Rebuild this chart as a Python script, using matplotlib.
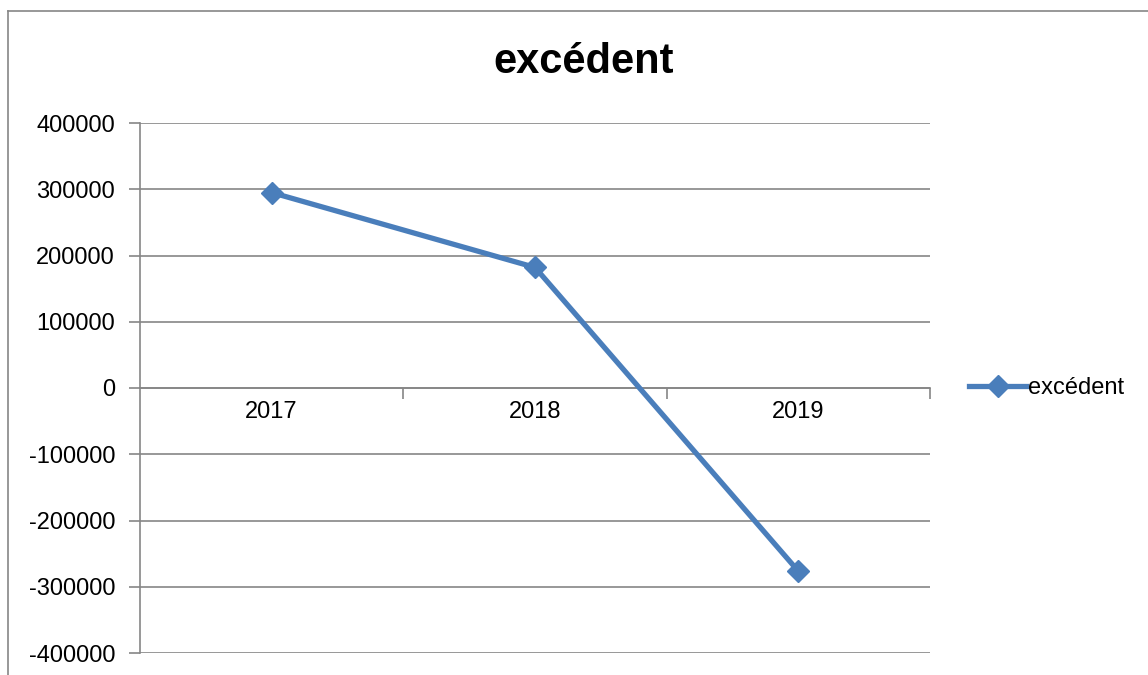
import matplotlib
matplotlib.use("Agg")
import matplotlib.pyplot as plt
from matplotlib.lines import Line2D

categories = ["2017", "2018", "2019"]
values = [295000, 182000, -276500]
yticks = [-400000, -300000, -200000, -100000, 0, 100000, 200000, 300000, 400000]
series_name = "excédent"
title = "excédent"

W, H = 1148, 675
fig = plt.figure(figsize=(W / 100, H / 100), dpi=100)
plt.rcParams['font.family'] = ['Liberation Sans', 'DejaVu Sans']

grid_c = "#868686"
blue = "#4A7EBB"

# outer frame (top and left)
fig.add_artist(Line2D([8 / W, 1.0], [1 - 11 / H, 1 - 11 / H], color=grid_c, lw=1.2))
fig.add_artist(Line2D([8 / W, 8 / W], [0, 1 - 11 / H], color=grid_c, lw=1.2))

left, right, top, bottom = 140, 930, 123, 653
ax = fig.add_axes([left / W, 1 - bottom / H, (right - left) / W, (bottom - top) / H])

x = list(range(len(categories)))
ax.plot(x, values, color=blue, lw=3.8, marker="D", markersize=11,
        markerfacecolor=blue, markeredgecolor=blue, label=series_name, zorder=3)

ax.set_xlim(-0.5, len(categories) - 0.5)
ax.set_ylim(yticks[0], yticks[-1])
ax.set_yticks(yticks)
ax.set_yticklabels([str(v) for v in yticks], fontsize=17)
ax.yaxis.grid(True, color=grid_c, lw=1.2)
ax.set_axisbelow(True)

for s in ["top", "right"]:
    ax.spines[s].set_visible(False)
ax.spines["left"].set_color(grid_c)
ax.spines["left"].set_linewidth(1.2)
ax.spines["bottom"].set_position(("data", 0))
ax.spines["bottom"].set_color(grid_c)
ax.spines["bottom"].set_linewidth(1.2)

ax.tick_params(axis="y", length=8, width=1.2, color=grid_c, pad=10, labelcolor="black")
# category boundary ticks
ax.set_xticks([i + 0.5 for i in x])
ax.set_xticklabels([])
ax.tick_params(axis="x", length=8, width=1.2, color=grid_c, direction="out")
for i, c in zip(x, categories):
    ax.text(i, -36000 * 1.0, c, ha="center", va="center", fontsize=17,
            transform=ax.transData)

fig.text(584 / W, 1 - 62 / H, title, ha="center", va="center",
         fontsize=30, fontweight="bold")

leg = fig.legend(handles=[Line2D([0], [0], color=blue, lw=3.8, marker="D", markersize=11)],
                 labels=[series_name], loc="center left",
                 bbox_to_anchor=(960 / W, 1 - 388 / H), frameon=False,
                 fontsize=17, handlelength=2.4, handletextpad=0.1, borderaxespad=0)

fig.savefig("out.png", dpi=100)
